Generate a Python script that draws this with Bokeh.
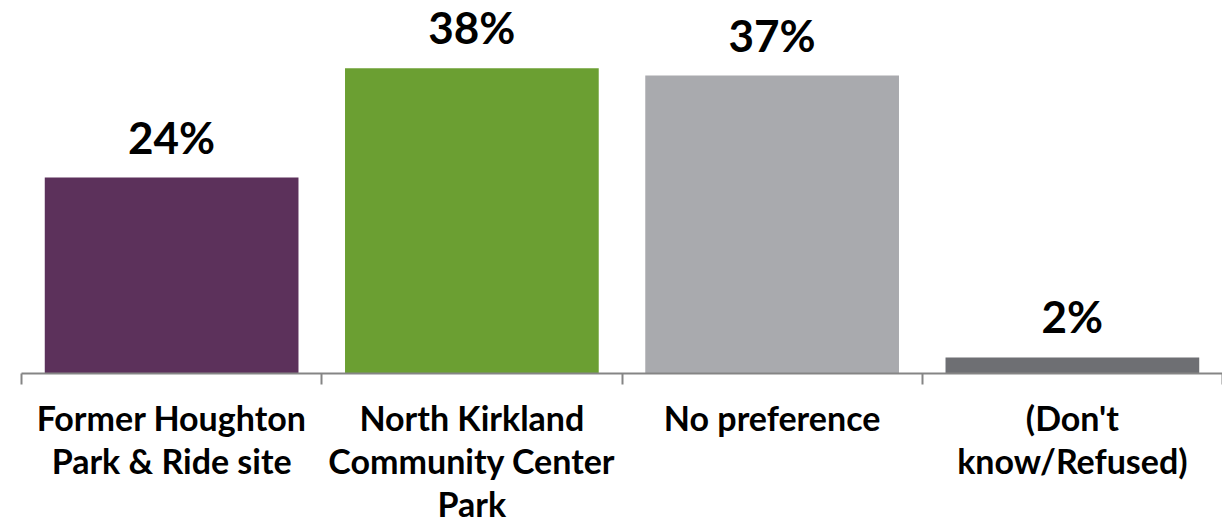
from bokeh.plotting import figure
from bokeh.models import ColumnDataSource, Range1d, FixedTicker
from bokeh.core.properties import value
from bokeh.embed import file_html
from bokeh.resources import INLINE

categories = ["Former Houghton\nPark & Ride site",
              "North Kirkland\nCommunity Center\nPark",
              "No preference",
              "(Don't\nknow/Refused)"]
values = [24.4, 38.0, 37.1, 2.0]
labels = ["24%", "38%", "37%", "2%"]
colors = ["#5C315B", "#6B9F32", "#A9AAAE", "#6E6F73"]

centers = [i + 0.5 for i in range(len(categories))]
bounds = [float(i) for i in range(len(categories) + 1)]

src = ColumnDataSource(dict(x=centers, top=values, lab=labels, color=colors))

p = figure(width=1222, height=527, output_backend="svg", toolbar_location=None,
           x_range=Range1d(0, len(categories)), y_range=Range1d(0, 46.45),
           min_border_left=21, min_border_right=0, min_border_top=0, min_border_bottom=154)

p.vbar(x="x", top="top", width=0.845, bottom=0, color="color", line_color=None, source=src)
p.text(x="x", y="top", text="lab", source=src, text_align="center", text_baseline="alphabetic",
       y_offset=-41, text_font=value("Lato"), text_font_style="bold", text_line_height=1.0,
       text_font_size="44px", text_color="#000000")

p.yaxis.visible = False
p.xgrid.visible = False
p.ygrid.visible = False
p.outline_line_color = None

ax = p.xaxis[0]
ax.ticker = FixedTicker(ticks=centers, minor_ticks=bounds)
ax.major_label_overrides = {c: t for c, t in zip(centers, categories)}
ax.major_tick_out = 0
ax.major_tick_in = 0
ax.minor_tick_out = 11
ax.minor_tick_in = 0
ax.minor_tick_line_color = "#858585"
ax.minor_tick_line_width = 2
ax.axis_line_color = "#858585"
ax.axis_line_width = 2
ax.major_label_standoff = 12
ax.major_label_text_font = "Lato"
ax.major_label_text_font_style = "bold"
ax.major_label_text_font_size = "34px"
ax.major_label_text_color = "#000000"
ax.major_label_text_line_height = 1.06

open("out.html", "w").write(file_html(p, INLINE))
